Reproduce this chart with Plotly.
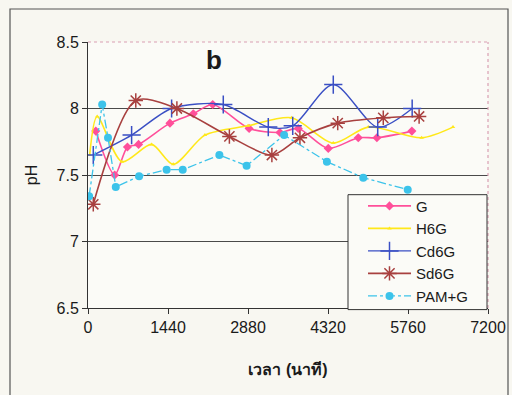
import plotly.graph_objects as go

# ---- data (time in minutes, pH) ----
g_x = [140, 480, 710, 910, 1475, 1895, 2245, 2900, 3455, 3785, 4325, 4865, 5200, 5830]
g_y = [7.83, 7.50, 7.71, 7.73, 7.89, 7.96, 8.03, 7.85, 7.82, 7.85, 7.70, 7.78, 7.78, 7.83]

h6g_x = [30, 165, 610, 1145, 1535, 2105, 2880, 3665, 4415, 5045, 6005, 6570]
h6g_y = [7.65, 7.94, 7.60, 7.73, 7.58, 7.80, 7.87, 7.93, 7.74, 7.86, 7.78, 7.86]

cd6g_x = [95, 785, 1505, 2435, 3245, 3685, 4415, 5215, 5835]
cd6g_y = [7.65, 7.80, 8.00, 8.03, 7.86, 7.87, 8.18, 7.86, 8.00]

sd6g_x = [95, 860, 1600, 2545, 3310, 3815, 4495, 5315, 5960]
sd6g_y = [7.28, 8.06, 8.00, 7.79, 7.65, 7.78, 7.89, 7.93, 7.94]

pam_x = [20, 255, 360, 500, 920, 1415, 1705, 2365, 2855, 3530, 4300, 4955, 5755]
pam_y = [7.34, 8.03, 7.78, 7.41, 7.49, 7.54, 7.54, 7.65, 7.57, 7.80, 7.60, 7.48, 7.39]

x_ticks = [0, 1440, 2880, 4320, 5760, 7200]
y_ticks = [6.5, 7, 7.5, 8, 8.5]

FONT = "Liberation Sans, Arial, Noto Sans, DejaVu Sans, sans-serif"
TXT = "#1a1a1a"

fig = go.Figure()
fig.add_trace(go.Scatter(x=g_x, y=g_y, name="G", mode="lines+markers",
                         line=dict(color="#ff4f9a", width=1.6, shape="spline", smoothing=0.8),
                         marker=dict(symbol="diamond", size=7, color="#ff4f9a")))
fig.add_trace(go.Scatter(x=h6g_x, y=h6g_y, name="H6G", mode="lines+markers",
                         line=dict(color="#ffe81a", width=1.6, shape="spline", smoothing=0.8),
                         marker=dict(symbol="triangle-up", size=4, color="#ffe81a")))
fig.add_trace(go.Scatter(x=cd6g_x, y=cd6g_y, name="Cd6G", mode="lines+markers",
                         line=dict(color="#3a4fc4", width=1.4, shape="spline", smoothing=0.8),
                         marker=dict(symbol="cross-thin", size=13, color="#3a4fc4",
                                     line=dict(width=1.5, color="#3a4fc4"))))
fig.add_trace(go.Scatter(x=sd6g_x, y=sd6g_y, name="Sd6G", mode="lines+markers",
                         line=dict(color="#a8403f", width=1.6, shape="spline", smoothing=0.8),
                         marker=dict(symbol="asterisk-open", size=12, color="#a8403f",
                                     line=dict(width=1.5, color="#a8403f"))))
fig.add_trace(go.Scatter(x=pam_x, y=pam_y, name="PAM+G", mode="lines+markers",
                         line=dict(color="#3cc3ea", width=1.3, dash="dashdot"),
                         marker=dict(symbol="circle", size=8, color="#3cc3ea")))

fig.update_layout(
    width=512, height=395,
    margin=dict(l=88, r=24, t=42, b=87, autoexpand=False),
    paper_bgcolor="#f8f7f1",
    plot_bgcolor="#fbfbf7",
    font=dict(family=FONT, size=16, color=TXT),
    showlegend=True,
    legend=dict(x=0.6875, y=0.445, xanchor="left", yanchor="top",
                bgcolor="rgba(0,0,0,0)", borderwidth=0,
                font=dict(size=15, color=TXT), tracegroupgap=0,
                itemwidth=43),
    xaxis=dict(range=[0, 7200], tickvals=x_ticks, ticktext=[str(v) for v in x_ticks],
               showgrid=False, zeroline=False, showline=True, linecolor="#333", linewidth=1,
               ticks="outside", ticklen=5, tickcolor="#333", automargin=False,
               tickfont=dict(size=16, color=TXT),
               title=dict(text="<b>เวลา (นาที)</b>", font=dict(size=16, color=TXT), standoff=28)),
    yaxis=dict(range=[6.5, 8.5], tickvals=y_ticks, ticktext=["6.5", "7", "7.5", "8", "8.5"],
               showgrid=True, gridcolor="#4a4a4a", gridwidth=1.2, zeroline=False,
               showline=True, linecolor="#333", linewidth=1,
               ticks="outside", ticklen=5, tickcolor="#333", automargin=False,
               tickfont=dict(size=16, color=TXT),
               title=dict(text="pH", font=dict(size=16, color=TXT), standoff=14)),
    annotations=[dict(text="<b>b</b>", x=0.29, y=0.995, xref="paper", yref="paper",
                      showarrow=False, font=dict(size=26, color=TXT, family=FONT))],
    shapes=[
        # pinkish top and right border of plot area
        dict(type="line", xref="paper", yref="paper", x0=0, x1=1, y0=1, y1=1,
             line=dict(color="#d9a0b4", width=1.2, dash="dot"), layer="above"),
        dict(type="line", xref="paper", yref="paper", x0=1, x1=1, y0=0, y1=1,
             line=dict(color="#d9a0b4", width=1.2, dash="dot"), layer="above"),
        # outer chart frame
        dict(type="rect", xref="paper", yref="paper", x0=-0.195, x1=1.05, y0=-0.4, y1=1.124,
             line=dict(color="#555", width=1.2), layer="below"),
        # legend box
        dict(type="rect", xref="paper", yref="paper", x0=0.65, x1=0.9975, y0=-0.006, y1=0.426,
             line=dict(color="#333", width=1), fillcolor="#fbfbf7", layer="above"),
    ],
)

fig.write_html("out.html")
